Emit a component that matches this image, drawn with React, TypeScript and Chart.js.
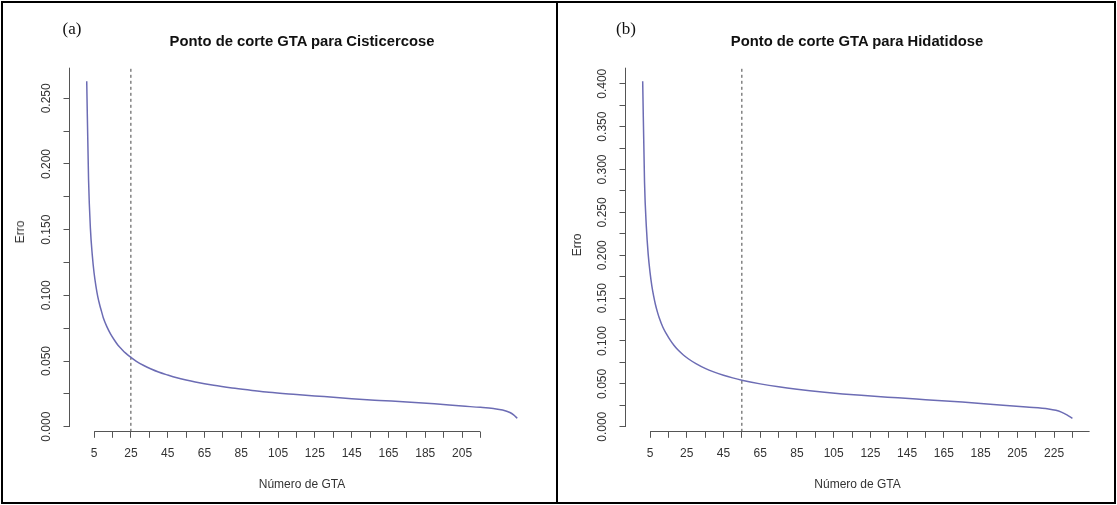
import React, { useEffect, useRef } from "react";
import { Chart, registerables } from "chart.js";

Chart.register(...registerables);

// ---------- data ----------
const gtaA = [1, 2, 3, 4, 5, 6, 7, 8, 9, 10, 12, 14, 16, 18, 20, 22, 25, 28, 32, 36, 40, 45, 50, 55, 60, 70, 80, 90, 100, 115, 130, 145, 160, 175, 190, 205, 215, 222, 227, 231, 233, 235];
const erroA = [0.263, 0.188, 0.151, 0.131, 0.117, 0.107, 0.099, 0.093, 0.088, 0.083, 0.076, 0.0705, 0.066, 0.062, 0.059, 0.0562, 0.0528, 0.0498, 0.0466, 0.0439, 0.0416, 0.0393, 0.0372, 0.0355, 0.034, 0.0315, 0.0295, 0.0278, 0.0262, 0.0245, 0.0229, 0.0213, 0.02, 0.0188, 0.0174, 0.0157, 0.0147, 0.0138, 0.0127, 0.0108, 0.009, 0.0064];

const gtaB = [1, 2, 3, 4, 5, 6, 7, 8, 9, 10, 12, 14, 16, 18, 20, 23, 26, 30, 35, 40, 45, 50, 55, 65, 75, 85, 100, 120, 140, 155, 175, 192, 210, 222, 226, 229, 232, 235];
const erroB = [0.403, 0.285, 0.233, 0.201, 0.18, 0.164, 0.152, 0.142, 0.134, 0.127, 0.116, 0.108, 0.101, 0.095, 0.09, 0.084, 0.079, 0.0736, 0.068, 0.0637, 0.0601, 0.057, 0.0543, 0.05, 0.0465, 0.0437, 0.0403, 0.0366, 0.0337, 0.0316, 0.0288, 0.026, 0.023, 0.0208, 0.0192, 0.017, 0.0138, 0.0098];

const cutA = 25;
const cutB = 55;

const xTicksA = [5, 15, 25, 35, 45, 55, 65, 75, 85, 95, 105, 115, 125, 135, 145, 155, 165, 175, 185, 195, 205, 215];
const xLabelsA = [5, 25, 45, 65, 85, 105, 125, 145, 165, 185, 205];
const xTicksB = [5, 15, 25, 35, 45, 55, 65, 75, 85, 95, 105, 115, 125, 135, 145, 155, 165, 175, 185, 195, 205, 215, 225, 235];
const xLabelsB = [5, 25, 45, 65, 85, 105, 125, 145, 165, 185, 205, 225];

const yTicksA = [0, 0.025, 0.05, 0.075, 0.1, 0.125, 0.15, 0.175, 0.2, 0.225, 0.25];
const yLabelsA = [0, 0.05, 0.1, 0.15, 0.2, 0.25];
const yTicksB = [0, 0.025, 0.05, 0.075, 0.1, 0.125, 0.15, 0.175, 0.2, 0.225, 0.25, 0.275, 0.3, 0.325, 0.35, 0.375, 0.4];
const yLabelsB = [0, 0.05, 0.1, 0.15, 0.2, 0.25, 0.3, 0.35, 0.4];

const titleA = "Ponto de corte GTA para Cisticercose";
const titleB = "Ponto de corte GTA para Hidatidose";
const xTitle = "Número de GTA";
const yTitle = "Erro";

// ---------- styles / geometry ----------
const SANS = "'Liberation Sans', Arial, Helvetica, sans-serif";
const SERIF = "'Liberation Serif', 'Times New Roman', serif";
const AXIS_COLOR = "#555";
const TEXT_COLOR = "#333";
const LINE_COLOR = "#6c6cb4";

type PanelGeom = {
  left: number;
  width: number;
  height: number;
  padTop: number;
  padRight: number;
  yAxisWidth: number;
  xAxisHeight: number;
  xMin: number;
  xMax: number;
  yMin: number;
  yMax: number;
  xLineEnd: number;
};

const geomA: PanelGeom = {
  left: 0, width: 557, height: 505,
  padTop: 67.7, padRight: 22.5, yAxisWidth: 69.5, xAxisHeight: 73.2,
  xMin: -8.36, xMax: 244.36, yMin: -0.0039, yMax: 0.2733, xLineEnd: 215,
};
const geomB: PanelGeom = {
  left: 557, width: 560, height: 505,
  padTop: 67.7, padRight: 27.4, yAxisWidth: 68.5, xAxisHeight: 73.2,
  xMin: -8.36, xMax: 244.36, yMin: -0.0059, yMax: 0.4187, xLineEnd: 244.36,
};

const align = (px: number) => Math.round(px - 0.5) + 0.5;

const axisLinePlugin = {
  id: "axisLines",
  afterDraw(chart: any, _args: any, opts: any) {
    const { ctx, chartArea, scales } = chart;
    const x = scales.x;
    const y = scales.y;
    ctx.save();
    ctx.strokeStyle = AXIS_COLOR;
    ctx.lineWidth = 1;
    ctx.beginPath();
    const lx = align(chartArea.left);
    ctx.moveTo(lx, y.getPixelForValue(0));
    ctx.lineTo(lx, chartArea.top);
    const by = align(chartArea.bottom);
    ctx.moveTo(x.getPixelForValue(opts.xStart), by);
    ctx.lineTo(x.getPixelForValue(opts.xEnd), by);
    ctx.stroke();
    ctx.restore();
  },
};

function buildConfig(
  g: PanelGeom,
  gta: number[],
  erro: number[],
  cut: number,
  xTicks: number[],
  xLabels: number[],
  yTicks: number[],
  yLabels: number[]
): any {
  const isLabelY = (v: number) => yLabels.some((l) => Math.abs(l - v) < 1e-9);
  return {
    type: "line",
    data: {
      datasets: [
        {
          data: gta.map((x, i) => ({ x, y: erro[i] })),
          borderColor: LINE_COLOR,
          borderWidth: 1.5,
          pointRadius: 0,
          cubicInterpolationMode: "monotone",
          fill: false,
        },
        {
          data: [
            { x: cut, y: g.yMin },
            { x: cut, y: g.yMax },
          ],
          borderColor: "#444",
          borderWidth: 1,
          borderDash: [3, 3],
          pointRadius: 0,
          fill: false,
        },
      ],
    },
    options: {
      animation: false,
      responsive: false,
      maintainAspectRatio: false,
      events: [],
      layout: { padding: { left: 0, top: g.padTop, right: g.padRight, bottom: 0 } },
      plugins: {
        legend: { display: false },
        tooltip: { enabled: false },
        title: { display: false },
        axisLines: { xStart: xTicks[0], xEnd: g.xLineEnd },
      },
      scales: {
        x: {
          type: "linear",
          min: g.xMin,
          max: g.xMax,
          afterBuildTicks: (s: any) => {
            s.ticks = xTicks.map((v) => ({ value: v }));
          },
          afterFit: (s: any) => {
            s.height = g.xAxisHeight;
          },
          grid: { display: true, drawOnChartArea: false, drawTicks: true, tickLength: 6, color: AXIS_COLOR },
          border: { display: false },
          ticks: {
            autoSkip: false,
            maxRotation: 0,
            minRotation: 0,
            padding: 9,
            color: TEXT_COLOR,
            font: { family: SANS, size: 12 },
            callback: (v: number) => (xLabels.includes(v) ? String(v) : ""),
          },
          title: {
            display: true,
            text: xTitle,
            color: TEXT_COLOR,
            font: { family: SANS, size: 12 },
            padding: { top: 0, bottom: 12.8 },
          },
        },
        y: {
          type: "linear",
          min: g.yMin,
          max: g.yMax,
          afterBuildTicks: (s: any) => {
            s.ticks = yTicks.map((v) => ({ value: v }));
          },
          afterFit: (s: any) => {
            s.width = g.yAxisWidth;
          },
          grid: { display: true, drawOnChartArea: false, drawTicks: true, tickLength: 6, color: AXIS_COLOR },
          border: { display: false },
          ticks: {
            autoSkip: false,
            minRotation: 90,
            maxRotation: 90,
            crossAlign: "center",
            padding: 2,
            color: TEXT_COLOR,
            font: { family: SANS, size: 12 },
            callback: (v: number) => (isLabelY(v) ? v.toFixed(3) : ""),
          },
        },
      },
    },
    plugins: [axisLinePlugin],
  };
}

function Panel({ geom, config }: { geom: PanelGeom; config: any }) {
  const ref = useRef<HTMLCanvasElement | null>(null);
  useEffect(() => {
    if (!ref.current) return;
    const chart = new Chart(ref.current, config);
    return () => chart.destroy();
  }, []);
  return (
    <canvas
      ref={ref}
      width={geom.width}
      height={geom.height}
      style={{ position: "absolute", left: geom.left, top: 0, width: geom.width, height: geom.height }}
    />
  );
}

function Label({
  text, x, y, font, rotate, weight, size, color,
}: {
  text: string; x: number; y: number; font: string; rotate?: boolean; weight?: string; size: number; color?: string;
}) {
  return (
    <div
      style={{
        position: "absolute",
        left: x,
        top: y,
        transform: `translate(-50%, -50%)${rotate ? " rotate(-90deg)" : ""}`,
        fontFamily: font,
        fontSize: size,
        fontWeight: weight || "normal",
        color: color || TEXT_COLOR,
        whiteSpace: "nowrap",
        lineHeight: 1,
      }}
    >
      {text}
    </div>
  );
}

export default function App() {
  const cfgA = buildConfig(geomA, gtaA, erroA, cutA, xTicksA, xLabelsA, yTicksA, yLabelsA);
  const cfgB = buildConfig(geomB, gtaB, erroB, cutB, xTicksB, xLabelsB, yTicksB, yLabelsB);
  return (
    <div style={{ position: "absolute", left: 0, top: 0, width: 1117, height: 505, background: "#fff", overflow: "hidden" }}>
      <Panel geom={geomA} config={cfgA} />
      <Panel geom={geomB} config={cfgB} />

      <Label text="(a)" x={72} y={28} font={SERIF} size={17} color="#111" />
      <Label text="(b)" x={626} y={28} font={SERIF} size={17} color="#111" />
      <Label text={titleA} x={302} y={41} font={SANS} size={14.8} weight="bold" color="#111" />
      <Label text={titleB} x={857} y={41} font={SANS} size={14.8} weight="bold" color="#111" />
      <Label text={yTitle} x={20} y={232} font={SANS} size={12} rotate />
      <Label text={yTitle} x={577} y={245} font={SANS} size={12} rotate />

      <div style={{ position: "absolute", left: 1, top: 1, width: 1115, height: 503, border: "2px solid #000", boxSizing: "border-box" }} />
      <div style={{ position: "absolute", left: 556, top: 1, width: 2, height: 503, background: "#000" }} />
    </div>
  );
}
